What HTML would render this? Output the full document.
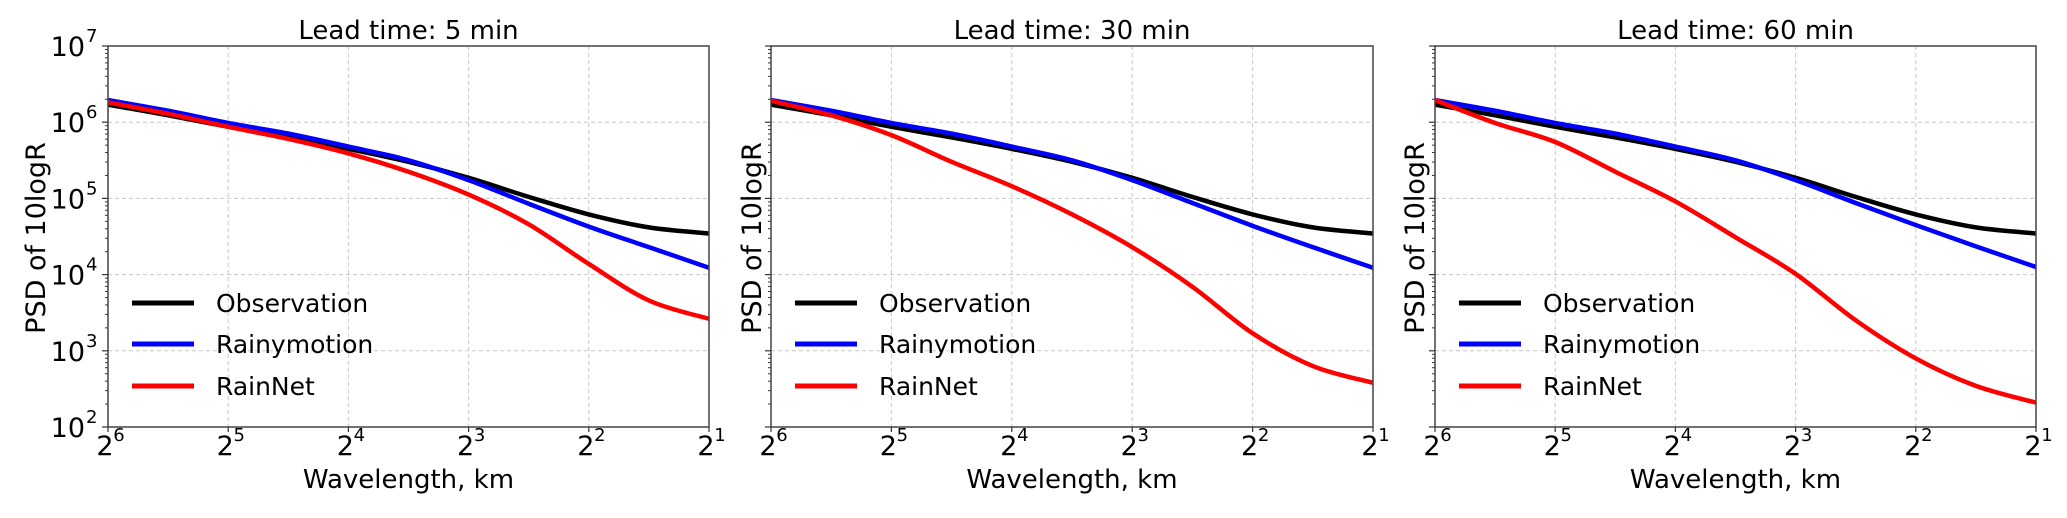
<!DOCTYPE html>
<html><head><meta charset="utf-8"><style>
html,body{margin:0;padding:0;background:#fff;}
svg{display:block;font-family:"DejaVu Sans","Liberation Sans",sans-serif;}
</style></head><body>
<svg id="chart" width="2067" height="518" viewBox="0 0 2067 518" xmlns="http://www.w3.org/2000/svg"></svg>
<script>
const titles = ["Lead time: 5 min", "Lead time: 30 min", "Lead time: 60 min"];
const seriesNames = ["Observation", "Rainymotion", "RainNet"];
const xExponents = [6, 5.5, 5, 4.5, 4, 3.5, 3, 2.5, 2, 1.5, 1];
const xTickExps = [6, 5, 4, 3, 2, 1];
const yTickExps = [7, 6, 5, 4, 3, 2];
// log10(PSD) values per panel
const obs5 = [6.23, 6.09, 5.94, 5.80, 5.65, 5.48, 5.27, 5.02, 4.79, 4.62, 4.54];
const rainy5 = [6.29, 6.15, 5.99, 5.85, 5.68, 5.50, 5.24, 4.93, 4.63, 4.36, 4.09];
const net5 = [6.26, 6.11, 5.94, 5.78, 5.59, 5.35, 5.05, 4.66, 4.14, 3.66, 3.42];
const obs30 = [6.23, 6.09, 5.94, 5.80, 5.65, 5.48, 5.27, 5.02, 4.79, 4.62, 4.54];
const rainy30 = [6.29, 6.15, 5.99, 5.85, 5.68, 5.50, 5.24, 4.94, 4.64, 4.36, 4.09];
const net30 = [6.28, 6.09, 5.83, 5.48, 5.16, 4.79, 4.36, 3.84, 3.23, 2.80, 2.58];
const obs60 = [6.23, 6.09, 5.94, 5.80, 5.65, 5.48, 5.27, 5.02, 4.79, 4.62, 4.54];
const rainy60 = [6.29, 6.15, 5.99, 5.85, 5.68, 5.50, 5.24, 4.94, 4.65, 4.37, 4.10];
const net60 = [6.29, 5.99, 5.74, 5.35, 4.96, 4.49, 4.01, 3.40, 2.90, 2.54, 2.32];
const panelData = [[obs5, rainy5, net5], [obs30, rainy30, net30], [obs60, rainy60, net60]];
const colors = ["#000000", "#0000ff", "#ff0000"];

const NS = "http://www.w3.org/2000/svg";
const svg = document.getElementById("chart");
const panels = [{l:108,r:709,yl:35},{l:771,r:1373,yl:751},{l:1435,r:2036,yl:1414}];
const TOP = 46, BOT = 427;
function mk(tag, attrs, parent){ const e=document.createElementNS(NS,tag); for(const k in attrs) e.setAttribute(k,attrs[k]); (parent||svg).appendChild(e); return e; }
function smoothPath(pts){
  let d = "M" + pts[0][0] + "," + pts[0][1];
  for(let i=0;i<pts.length-1;i++){
    const p0=pts[Math.max(0,i-1)], p1=pts[i], p2=pts[i+1], p3=pts[Math.min(pts.length-1,i+2)];
    const c1x=p1[0]+(p2[0]-p0[0])/6, c1y=p1[1]+(p2[1]-p0[1])/6;
    const c2x=p2[0]-(p3[0]-p1[0])/6, c2y=p2[1]-(p3[1]-p1[1])/6;
    d += " C"+c1x+","+c1y+" "+c2x+","+c2y+" "+p2[0]+","+p2[1];
  }
  return d;
}
panels.forEach((p, pi) => {
  const xs = e => p.l + (6 - e) / 5 * (p.r - p.l);
  const ys = v => TOP + (7 - v) / 5 * (BOT - TOP);
  const g = mk("g", {});
  
  
  xTickExps.forEach(e => { const ln = mk("line",{x1:xs(e),x2:xs(e),y1:TOP,y2:BOT,stroke:"#c8c8c8","stroke-width":1,"stroke-dasharray":"4,3"},g);
      });
  yTickExps.forEach(e => { const ln = mk("line",{x1:p.l,x2:p.r,y1:ys(e),y2:ys(e),stroke:"#c8c8c8","stroke-width":1,"stroke-dasharray":"4,3"},g);
      });
  for(let dec=2; dec<7; dec++){ for(let m=2;m<10;m++){ const y=ys(dec+Math.log10(m));
    const t = mk("line",{x1:p.l-3,x2:p.l,y1:y,y2:y,stroke:"#333","stroke-width":1},g);
      } }
  panelData[pi].forEach((vals, si) => {
    const pts = vals.map((v,i)=>[xs(xExponents[i]), ys(v)]);
    const path = mk("path",{d:smoothPath(pts),fill:"none",stroke:colors[si],"stroke-width":4.5,"stroke-linejoin":"round"},g);
    
    
  });
  const fr = mk("rect",{x:p.l,y:TOP,width:p.r-p.l,height:BOT-TOP,fill:"none",stroke:"#444","stroke-width":1.5},g);
   
  xTickExps.forEach(e => {
    const x = xs(e);
    const t = mk("line",{x1:x,x2:x,y1:BOT,y2:BOT+5,stroke:"#333","stroke-width":1.2},g);
     
    const tx = mk("text",{x:x-3,y:455,"font-size":27,"text-anchor":"middle",fill:"#000"},g);
    tx.textContent = "2";
     
    const sp = mk("text",{x:x+11,y:441,"font-size":18,"text-anchor":"middle",fill:"#000"},g);
    sp.textContent = String(e);
     
  });
  yTickExps.forEach(e => {
    const y = ys(e);
    const t = mk("line",{x1:p.l-6,x2:p.l,y1:y,y2:y,stroke:"#333","stroke-width":1.2},g);
     
    if(pi===0){
      const tx = mk("text",{x:85,y:y+10,"font-size":27,"text-anchor":"end",fill:"#000"},g);
      tx.textContent = "10";
       
      const sp = mk("text",{x:86,y:y-4,"font-size":18,"text-anchor":"start",fill:"#000"},g);
      sp.textContent = String(e);
       
    }
  });
  const cx = (p.l+p.r)/2;
  const ti = mk("text",{x:cx,y:39,"font-size":26,"text-anchor":"middle",fill:"#000"},g);
  ti.textContent = titles[pi];
   
  const xl = mk("text",{x:cx,y:488,"font-size":26,"text-anchor":"middle",fill:"#000"},g);
  xl.textContent = "Wavelength, km";
   
  const yl = mk("text",{x:0,y:0,"font-size":27,"text-anchor":"middle",fill:"#000",transform:"translate("+(p.yl+10)+",238) rotate(-90)"},g);
  yl.textContent = "PSD of 10logR";
   
  [303,344,386].forEach((ly, si) => {
    const ll = mk("line",{x1:p.l+24,x2:p.l+86,y1:ly,y2:ly,stroke:colors[si],"stroke-width":5},g);
     
    const lt = mk("text",{x:p.l+108,y:ly+9,"font-size":25,fill:"#000"},g);
    lt.textContent = seriesNames[si];
     
  });
});
</script>
</body></html>
